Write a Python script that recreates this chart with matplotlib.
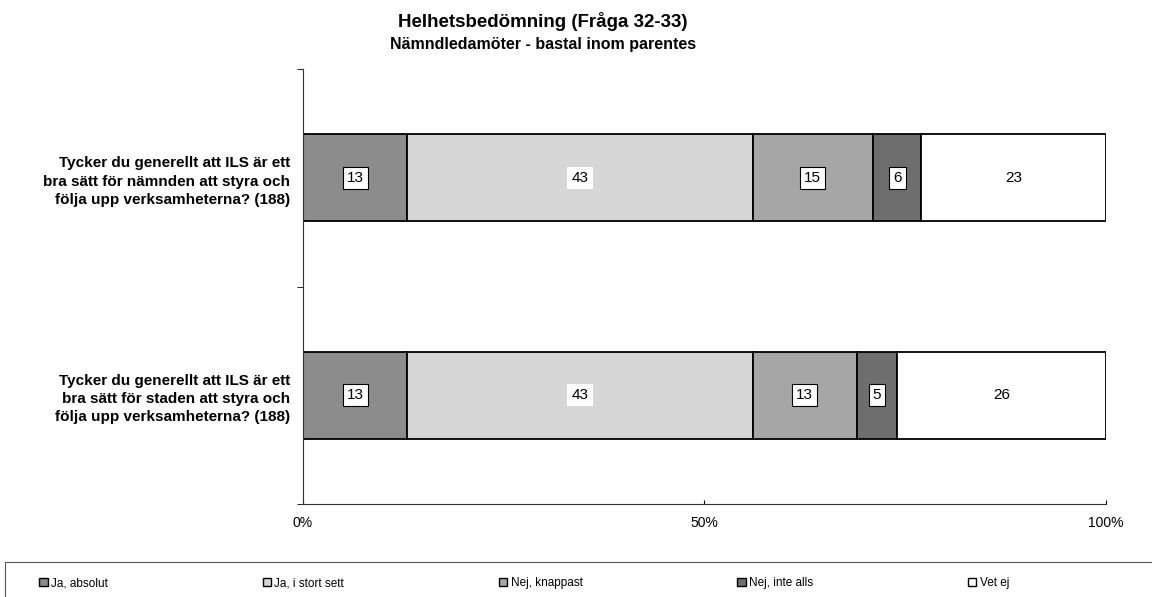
import matplotlib.pyplot as plt
import numpy as np
from matplotlib.patches import Patch, Rectangle

plt.rcParams['font.family'] = ['Liberation Sans', 'DejaVu Sans']

questions = ["Tycker du generellt att ILS är ett\nbra sätt för nämnden att styra och\nfölja upp verksamheterna? (188)",
             "Tycker du generellt att ILS är ett\nbra sätt för staden att styra och\nfölja upp verksamheterna? (188)"]
answers = ["Ja, absolut", "Ja, i stort sett", "Nej, knappast", "Nej, inte alls", "Vet ej"]
ja_absolut = [13, 13]
ja_stort = [43, 43]
nej_knappast = [15, 13]
nej_inte = [6, 5]
vet_ej = [23, 26]

values = np.array([ja_absolut, ja_stort, nej_knappast, nej_inte, vet_ej])
colors = ['#8c8c8c', '#d6d6d6', '#a6a6a6', '#6e6e6e', '#ffffff']

fig = plt.figure(figsize=(11.52, 5.97), dpi=100)
ax = fig.add_axes([0.263, 0.156, 0.697, 0.728])

y = np.arange(len(questions))
left = np.zeros(len(questions))
for i in range(len(answers)):
    bars = ax.barh(y, values[i], left=left, height=0.4, color=colors[i],
                   edgecolor='black', linewidth=1.3, label=answers[i])
    for j, b in enumerate(bars):
        cx = left[j] + values[i][j] / 2
        if i in (0, 2, 3):
            box = dict(facecolor='white', edgecolor='black', linewidth=0.8, pad=3)
        elif i == 1:
            box = dict(facecolor='white', edgecolor='none', pad=3)
        else:
            box = None
        ax.text(cx, y[j], str(values[i][j]), ha='center', va='center',
                fontsize=11, bbox=box)
    left = left + values[i]

ax.set_xlim(0, 100)
ax.set_ylim(1.5, -0.5)
ax.set_xticks([0, 50, 100])
ax.set_xticklabels(['0%', '50%', '100%'], fontsize=10)
ax.tick_params(axis='x', direction='in', length=3, pad=9)
ax.set_yticks(y)
ax.set_yticklabels(questions, fontsize=11, fontweight='bold', linespacing=1.4)
ax.tick_params(axis='y', length=0, pad=9)
ax.set_yticks([-0.5, 0.5, 1.5], minor=True)
ax.tick_params(axis='y', which='minor', length=4)
ax.spines['top'].set_visible(False)
ax.spines['right'].set_visible(False)
ax.spines['left'].set_color('#333333')
ax.spines['bottom'].set_color('#333333')

fig.text(0.471, 0.964, "Helhetsbedömning (Fråga 32-33)", ha='center', va='center',
         fontsize=13.5, fontweight='bold')
fig.text(0.471, 0.925, "Nämndledamöter - bastal inom parentes", ha='center', va='center',
         fontsize=11.5, fontweight='bold')

# legend frame across the bottom
fig.patches.append(Rectangle((0.004, -0.01), 1.0, 0.068, transform=fig.transFigure,
                             facecolor='none', edgecolor='#555555', linewidth=0.8))
handles = [Patch(facecolor=c, edgecolor='black', linewidth=1) for c in colors]
leg = fig.legend(handles, answers, loc='center left', bbox_to_anchor=(0.03, 0.023, 0.85, 0),
                 mode='expand', ncol=5, fontsize=8.5, frameon=False,
                 handlelength=0.7, handleheight=0.7, handletextpad=0.3, borderaxespad=0)

fig.savefig('out.png', dpi=100)
